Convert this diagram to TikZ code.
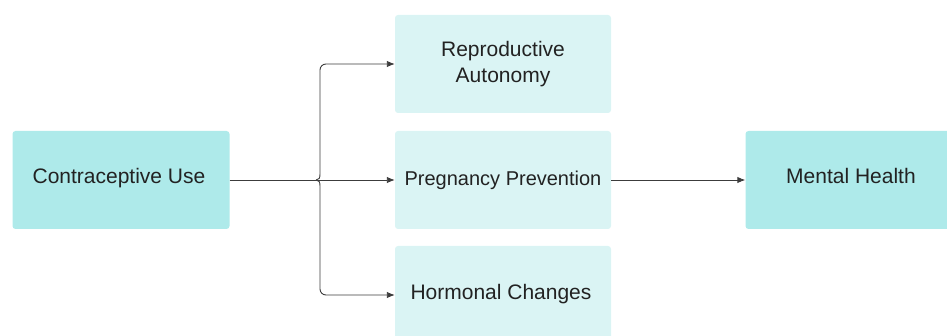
\documentclass[tikz,border=0pt]{standalone}
\usepackage{fontspec}
\setmainfont{Liberation Sans}
\usetikzlibrary{arrows.meta}
\definecolor{strongbox}{RGB}{174,234,234}
\definecolor{lightbox}{RGB}{218,244,244}
\definecolor{linegray}{RGB}{60,60,60}
\definecolor{txt}{RGB}{34,34,34}
\tikzset{
  box/.style={rectangle, rounded corners=3pt, draw=none, minimum width=217pt, minimum height=98pt, text=txt, font=\fontsize{21}{26}\selectfont, align=center, inner sep=0pt},
  mainbox/.style={box, fill=strongbox},
  subbox/.style={box, fill=lightbox, minimum width=216pt},
  lbl/.style={text=txt, font=\fontsize{21}{26}\selectfont, inner sep=0pt},
  arr/.style={draw=linegray, line width=0.9pt, -{Latex[length=8pt,width=6.5pt]}}
}
\begin{document}
\begin{tikzpicture}[x=1pt,y=-1pt]
\useasboundingbox (0,0) rectangle (947,336);
\clip (0,0) rectangle (947,336);
\node[mainbox] (cu) at (121,180) {};
\node[lbl] (cuT) at (119,178) {Contraceptive Use};
\node[subbox] (ra) at (503,64) {Reproductive\\Autonomy};
\node[subbox, font=\fontsize{20}{26}\selectfont] (pp) at (503,180) {Pregnancy Prevention};
\node[subbox] (hc) at (503,295) {};
\node[lbl] (hcT) at (501,294) {Hormonal Changes};
\node[mainbox] (mh) at (854,180) {};
\node[lbl] (mhT) at (851,176) {Mental Health};
\coordinate (j) at (316,180);
\draw[arr] (cu.east) -- (pp.west);
\draw[arr] (j) .. controls (319,180) and (320,178) .. (320,174) [rounded corners=6pt] |- (ra.west);
\draw[arr] (j) .. controls (319,180) and (320,182) .. (320,186) [rounded corners=6pt] |- (hc.west);
\draw[arr] (pp.east) -- (mh.west);
\end{tikzpicture}
\end{document}
